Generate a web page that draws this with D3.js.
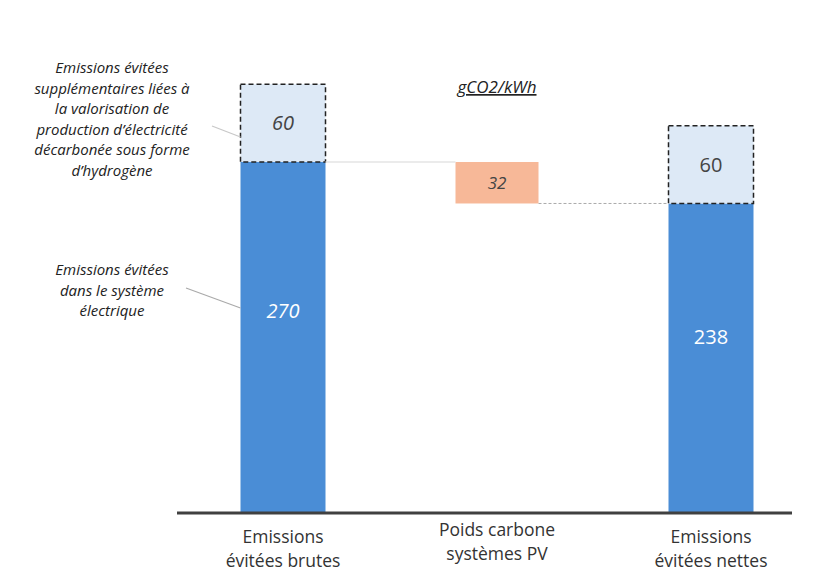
<!DOCTYPE html>
<html>
<head>
<meta charset="utf-8">
<script src="https://cdn.jsdelivr.net/npm/d3@7"></script>
<style>
  body { margin: 0; background: #fff; }
  svg text { font-family: "Open Sans", sans-serif; }
</style>
</head>
<body>
<div id="chart"></div>
<script>
/******************************************************************************/
/*  Data                                                                      */
/******************************************************************************/

var categories   = ['brutes', 'pv', 'nettes'];
var catLabels    = [['Emissions', 'évitées brutes'], ['Poids carbone', 'systèmes PV'], ['Emissions', 'évitées nettes']];
var baseValues   = [270, null, 238];   // emissions avoided in the power system
var pvWeight     = 32;                 // carbon weight of PV systems (waterfall step)
var h2Values     = [60, null, 60];     // extra avoided emissions via hydrogen
var unitLabel    = 'gCO2/kWh';
var noteH2       = ['Emissions évitées', 'supplémentaires liées à', 'la valorisation de', 'production d\u2019électricité', 'décarbonée sous forme', 'd\u2019hydrogène'];
var noteBase     = ['Emissions évitées', 'dans le système', 'électrique'];

/******************************************************************************/
/*  Chart                                                                     */
/******************************************************************************/

var W = 814, H = 571, barW = 85, pvW = 83;

var svg = d3.select('#chart')
    .append('svg')
      .attr('width',  W)
      .attr('height', H)

var x = d3.scalePoint()
    .domain(categories)
    .range([283, 711])

var y = d3.scaleLinear()
    .domain([0, 270])
    .range([512, 162])

// Base bars (dark blue)
svg.selectAll('.bar').data(categories.filter(function(c, i){ return baseValues[i] != null; }))
  .enter().append('rect')
    .attr('class', 'bar')
    .attr('x', function(d){ return x(d) - barW/2; })
    .attr('y', function(d){ return y(baseValues[categories.indexOf(d)]); })
    .attr('width', barW)
    .attr('height', function(d){ return y(0) - y(baseValues[categories.indexOf(d)]); })
    .attr('fill', '#4a8dd6')

// Hydrogen boxes (light, dashed)
svg.selectAll('.h2').data(categories.filter(function(c, i){ return h2Values[i] != null; }))
  .enter().append('rect')
    .attr('class', 'h2')
    .attr('x', function(d){ return x(d) - barW/2; })
    .attr('y', function(d){ var i = categories.indexOf(d); return y(baseValues[i] + h2Values[i]); })
    .attr('width', barW)
    .attr('height', function(d){ var i = categories.indexOf(d); return y(baseValues[i]) - y(baseValues[i] + h2Values[i]); })
    .attr('fill', '#dde9f6')
    .attr('stroke', '#222')
    .attr('stroke-width', 1.5)
    .attr('stroke-dasharray', '5,3')

// PV carbon weight (floating orange step)
var pvTop = baseValues[0], pvBot = baseValues[0] - pvWeight;
svg.append('rect')
    .attr('x', x('pv') - pvW/2)
    .attr('y', y(pvTop))
    .attr('width', pvW)
    .attr('height', y(pvBot) - y(pvTop))
    .attr('fill', '#f7b898')

// Waterfall connectors
svg.append('line')
    .attr('x1', x('brutes') + barW/2).attr('x2', x('pv') - pvW/2)
    .attr('y1', y(pvTop)).attr('y2', y(pvTop))
    .attr('stroke', '#e4e4e4').attr('stroke-width', 1.5)
svg.append('line')
    .attr('x1', x('pv') + pvW/2).attr('x2', x('nettes') - barW/2)
    .attr('y1', y(pvBot)).attr('y2', y(pvBot))
    .attr('stroke', '#aaa').attr('stroke-width', 1).attr('stroke-dasharray', '3,2')

// Value labels
svg.append('text').attr('x', x('brutes')).attr('y', (y(0) + y(270))/2 - 19)
    .attr('text-anchor', 'middle').attr('font-size', 20).attr('font-style', 'italic')
    .attr('fill', '#fff').text(baseValues[0])
svg.append('text').attr('x', x('nettes')).attr('y', (y(0) + y(238))/2 - 14)
    .attr('text-anchor', 'middle').attr('font-size', 20)
    .attr('fill', '#fff').text(baseValues[2])
svg.append('text').attr('x', x('brutes')).attr('y', (y(270) + y(330))/2 + 7)
    .attr('text-anchor', 'middle').attr('font-size', 20).attr('font-style', 'italic')
    .attr('fill', '#444').text(h2Values[0])
svg.append('text').attr('x', x('nettes')).attr('y', (y(238) + y(298))/2 + 7)
    .attr('text-anchor', 'middle').attr('font-size', 20)
    .attr('fill', '#444').text(h2Values[2])
svg.append('text').attr('x', x('pv')).attr('y', (y(pvTop) + y(pvBot))/2 + 6)
    .attr('text-anchor', 'middle').attr('font-size', 17).attr('font-style', 'italic')
    .attr('fill', '#444').text(pvWeight)

// Axis line
svg.append('line')
    .attr('x1', 177).attr('x2', 792)
    .attr('y1', y(0) + 1).attr('y2', y(0) + 1)
    .attr('stroke', '#404040').attr('stroke-width', 3)

// Category labels
svg.selectAll('.cat').data(categories)
  .enter().append('text')
    .attr('class', 'cat')
    .attr('text-anchor', 'middle')
    .attr('font-size', 17.5)
    .attr('fill', '#333')
    .attr('transform', function(d, i){ return 'translate(' + x(d) + ',' + (i == 1 ? 536 : 543) + ')'; })
  .selectAll('tspan').data(function(d, i){ return catLabels[i]; })
  .enter().append('tspan')
    .attr('x', 0)
    .attr('dy', function(d, j){ return j ? 23.5 : 0; })
    .text(function(d){ return d; })

// Unit
svg.append('text').attr('x', 497).attr('y', 93)
    .attr('text-anchor', 'middle').attr('font-size', 17).attr('font-style', 'italic')
    .attr('text-decoration', 'underline').attr('fill', '#222').text(unitLabel)

// Annotations
function note(lines, cx, y0){
  svg.append('text')
      .attr('text-anchor', 'middle')
      .attr('font-size', 15)
      .attr('font-style', 'italic')
      .attr('fill', '#222')
      .attr('transform', 'translate(' + cx + ',' + y0 + ')')
    .selectAll('tspan').data(lines)
    .enter().append('tspan')
      .attr('x', 0)
      .attr('dy', function(d, j){ return j ? 20.5 : 0; })
      .text(function(d){ return d; })
}
note(noteH2, 112, 73);
note(noteBase, 112, 275);

svg.append('line').attr('x1', 212).attr('y1', 126).attr('x2', x('brutes') - barW/2).attr('y2', 137)
    .attr('stroke', '#c8c8c8').attr('stroke-width', 1.2)
svg.append('line').attr('x1', 186).attr('y1', 288).attr('x2', x('brutes') - barW/2).attr('y2', 308)
    .attr('stroke', '#aaa').attr('stroke-width', 1.2)
</script>
</body>
</html>
